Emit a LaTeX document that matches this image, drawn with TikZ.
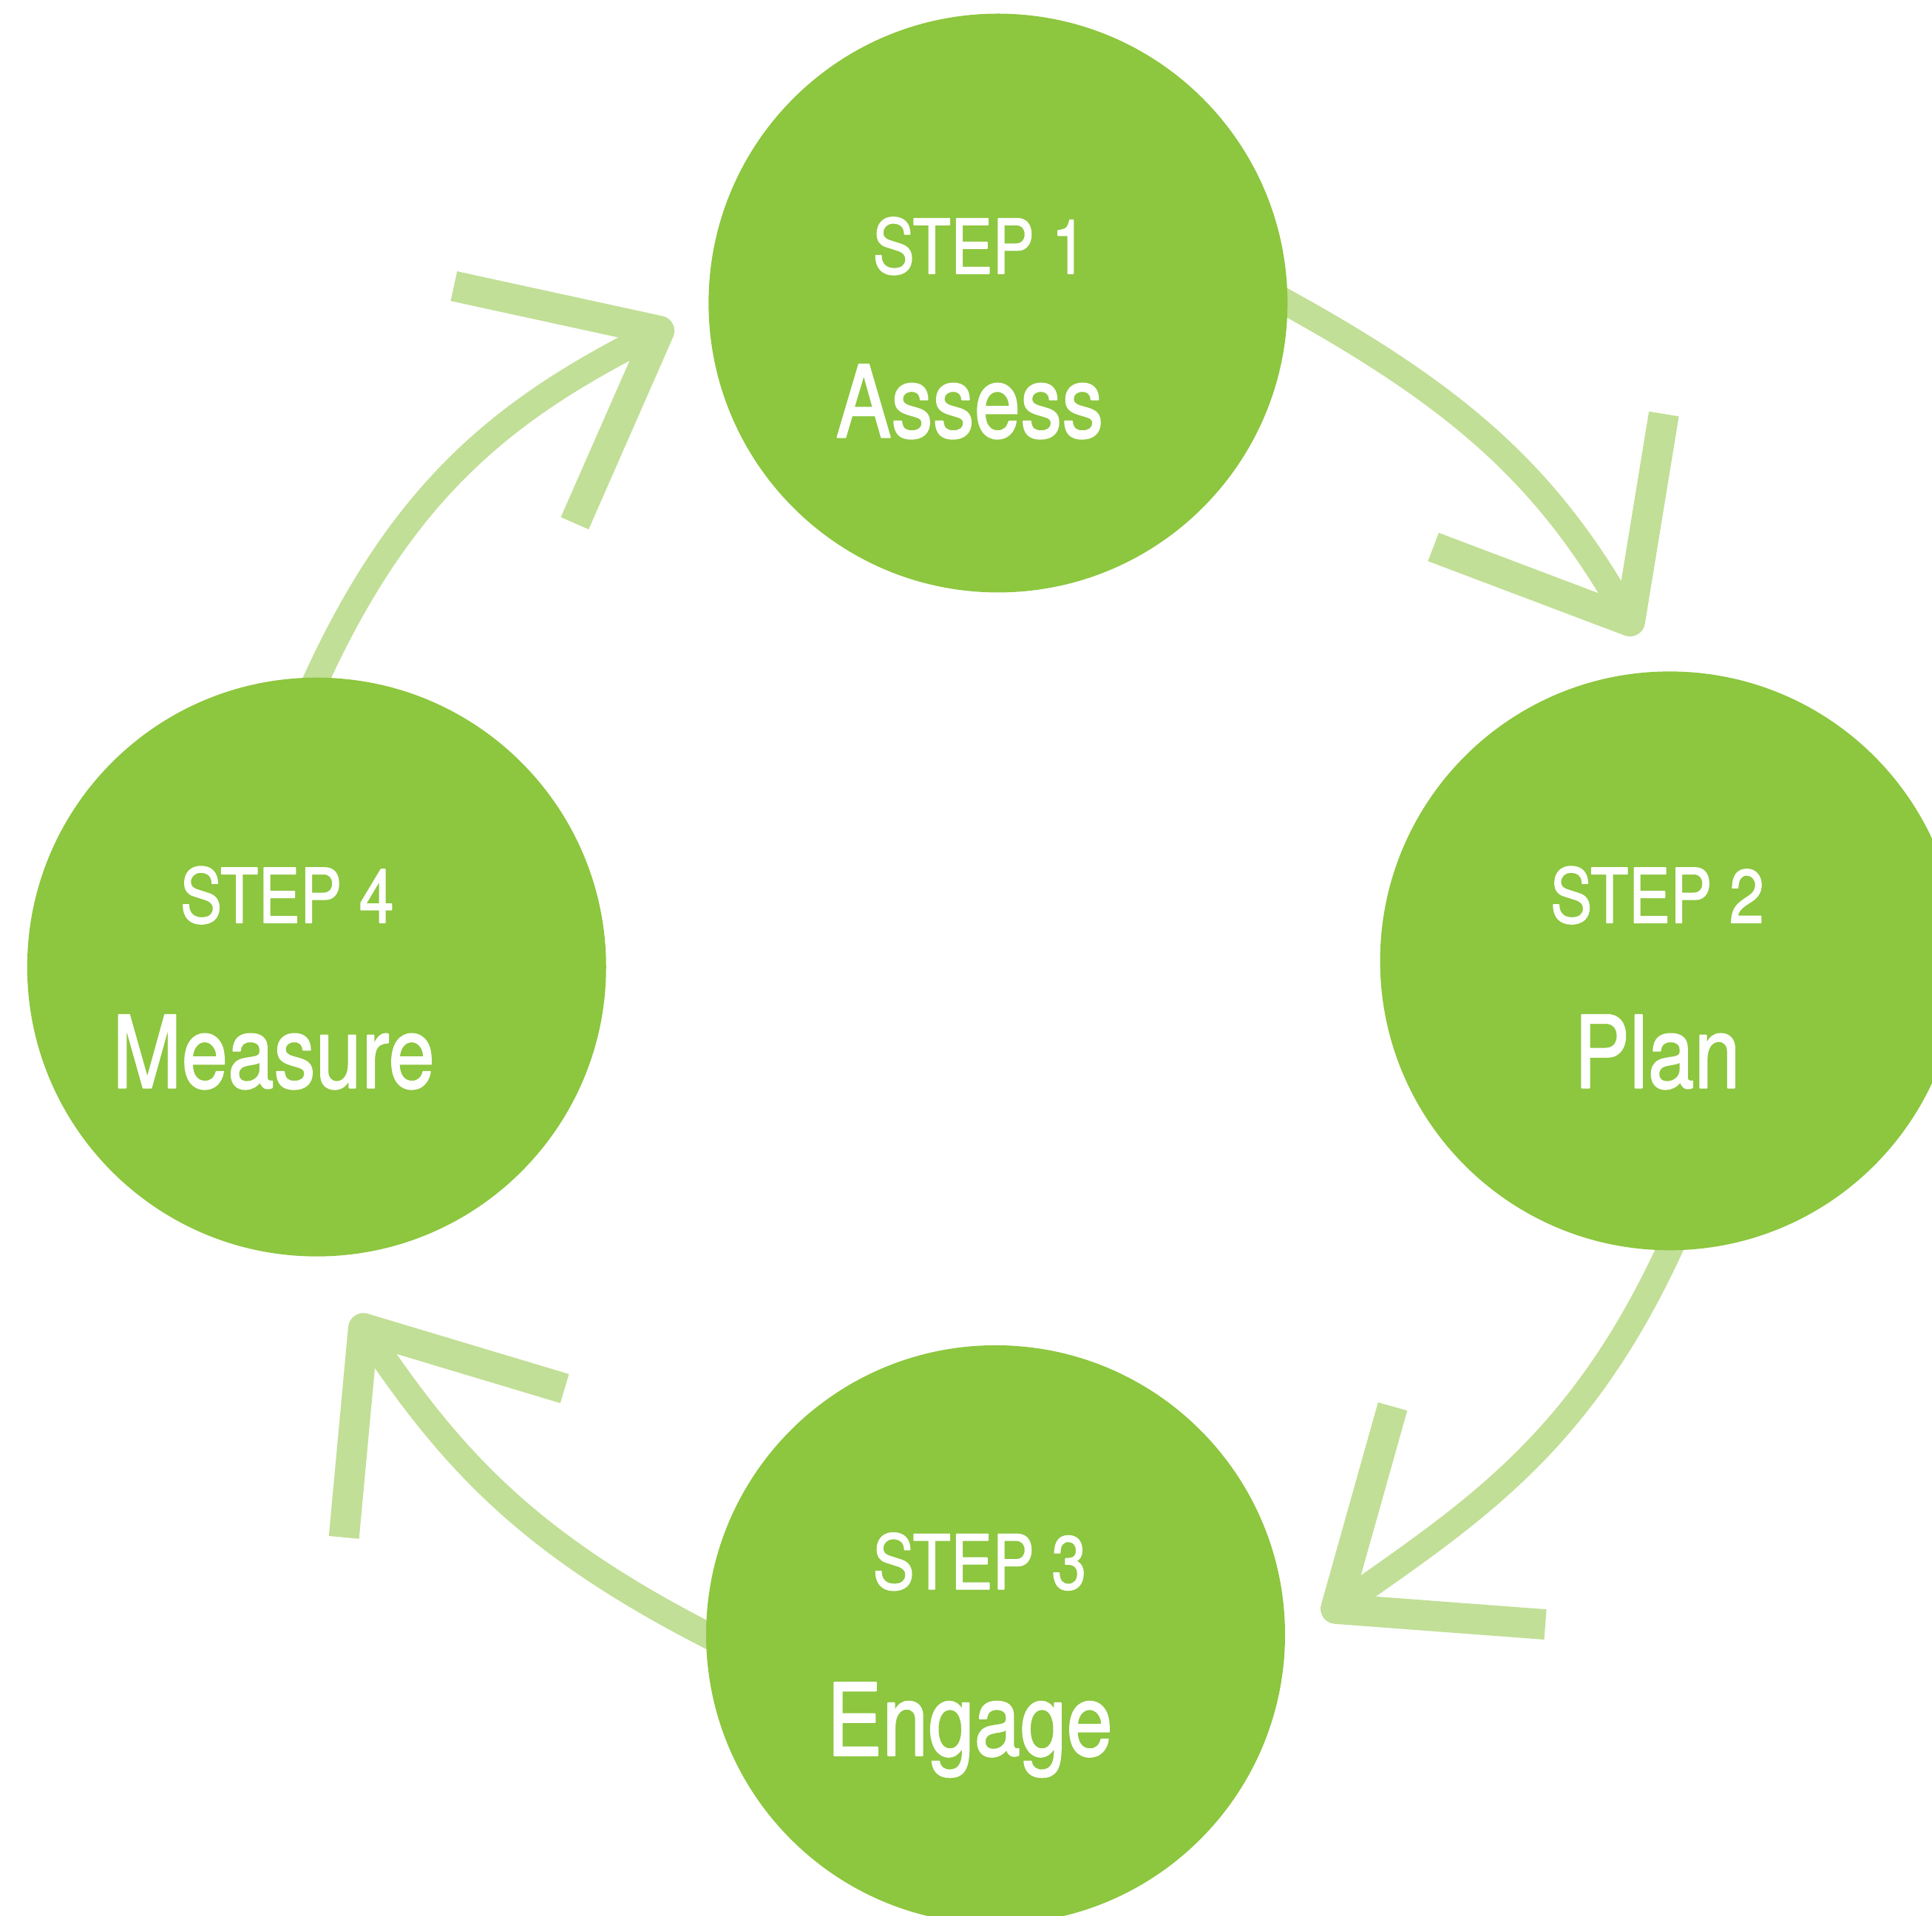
\documentclass[tikz,border=0pt]{standalone}
\usepackage{fontspec}
\newfontfamily\stepfont[FakeBold=1.6]{TeX Gyre Heros}
\usetikzlibrary{arrows.meta,backgrounds}
\definecolor{stepgreen}{RGB}{141,198,63}
\definecolor{flowgreen}{RGB}{193,223,150}
\newcommand{\condensed}[1]{\scalebox{0.83}[1]{#1}}

\begin{document}
\begin{tikzpicture}[x=0.16665mm, y=-0.16665mm, line join=round, line cap=round,
	stepnode/.style={circle, fill=stepgreen, minimum size=78.3mm, inner sep=0pt},
	steptag/.style={text=white, font=\stepfont\fontsize{29}{30}\selectfont, anchor=base, inner sep=0pt},
	stepname/.style={text=white, font=\stepfont\fontsize{38.5}{40}\selectfont, anchor=base, inner sep=0pt},
	flow/.style={draw=flowgreen, line width=3.5mm, line cap=butt, shorten <=-5mm,
		-{Straight Barb[length=22mm, width=36mm, line width=4.1mm, line cap=butt, line join=round]}}]
		\useasboundingbox (0,0) rectangle (1568,1555);
		\clip (0,0) rectangle (1568,1555);
		% cac buoc
		\node[stepnode] (s1) at (810,246) {};
		\node[stepnode] (s2) at (1355,780) {};
		\node[stepnode] (s3) at (808,1327) {};
		\node[stepnode] (s4) at (257,785) {};
		\node[steptag] (t1) at (795,222) {\condensed{STEP 1}};
		\node[stepname] (n1) at (787,355) {\condensed{Assess}};
		\node[steptag] (t2) at (1345,749) {\condensed{STEP 2}};
		\node[stepname] (n2) at (1345,883) {\condensed{Plan}};
		\node[steptag] (t3) at (795,1290) {\condensed{STEP 3}};
		\node[stepname] (n3) at (787,1425) {\condensed{Engage}};
		\node[steptag] (t4) at (233,749) {\condensed{STEP 4}};
		\node[stepname] (n4) at (222,883) {\condensed{Measure}};
		% dau mui ten
		\coordinate (pA) at (1329,515);
		\coordinate (pB) at (1074,1313);
		\coordinate (pC) at (288,1068);
		\coordinate (pD) at (546,263);
\begin{scope}[on background layer]
\draw[flow] (s1.east) to[out=-28, in=120] (pA);
\draw[flow] (s2.south) to[out=247, in=35] (pB);
\draw[flow] (s3.west) to[out=154, in=-56] (pC);
\draw[flow] (s4.north) to[out=67, in=-153] (pD);
\end{scope}
\end{tikzpicture}
\end{document}
